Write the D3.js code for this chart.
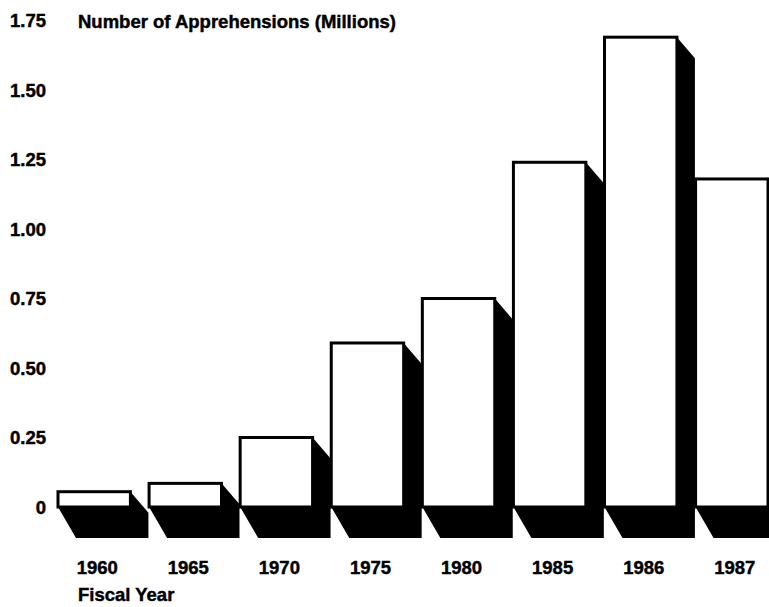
<!DOCTYPE html>
<html>
<head>
<meta charset="utf-8">
<script src="https://cdn.jsdelivr.net/npm/d3@7"></script>
<style>
  html, body { margin: 0; padding: 0; background: #fff; }
  svg { display: block; }
  text { font-family: "Liberation Sans", Arial, Helvetica, sans-serif; font-weight: bold; fill: #000; stroke: #000; stroke-width: 0.45px; }
</style>
</head>
<body>
<svg id="chart" width="769" height="607"></svg>
<script>
const years = ["1960", "1965", "1970", "1975", "1980", "1985", "1986", "1987"];
const apprehensions = [0.055, 0.085, 0.25, 0.59, 0.75, 1.24, 1.69, 1.18];
const yTicks = [0, 0.25, 0.5, 0.75, 1.0, 1.25, 1.5, 1.75];
const yTickLabels = ["0", "0.25", "0.50", "0.75", "1.00", "1.25", "1.50", "1.75"];
const titleText = "Number of Apprehensions (Millions)";
const xTitleText = "Fiscal Year";

const svg = d3.select("#chart");
const fontSize = 18.5;

const x = d3.scaleBand().domain(years).range([58, 768]).paddingInner(0.205).paddingOuter(0);
const y = d3.scaleLinear().domain([0, 1.75]).range([507, 20.5]);

const dx = 18, dyTop = 21, dyBot = 31;
const bw = x.bandwidth();

const data = years.map((yr, i) => ({ yr, v: apprehensions[i] }));

// shadows
svg.append("g").selectAll("polygon").data(data).join("polygon")
  .attr("fill", "#000")
  .attr("points", d => {
    const x0 = x(d.yr), x1 = x0 + bw, yt = y(d.v), yb = y(0);
    return [[x1, yt], [x1 + dx, yt + dyTop], [x1 + dx, yb + dyBot], [x0 + dx, yb + dyBot], [x0, yb], [x1, yb]]
      .map(p => p.join(",")).join(" ");
  });

// front faces
svg.append("g").selectAll("rect").data(data).join("rect")
  .attr("x", d => x(d.yr))
  .attr("y", d => y(d.v))
  .attr("width", bw)
  .attr("height", d => y(0) - y(d.v))
  .attr("fill", "#fff")
  .attr("stroke", "#000")
  .attr("stroke-width", 3);

// y-axis labels
svg.append("g").selectAll("text").data(yTicks).join("text")
  .attr("x", 46)
  .attr("y", d => y(d))
  .attr("dy", "0.36em")
  .attr("text-anchor", "end")
  .attr("font-size", fontSize)
  .text((d, i) => yTickLabels[i]);

// x-axis labels
svg.append("g").selectAll("text").data(years).join("text")
  .attr("x", d => x(d) + bw / 2 + 3)
  .attr("y", 574)
  .attr("text-anchor", "middle")
  .attr("font-size", fontSize)
  .text(d => d);

svg.append("text").attr("x", 78).attr("y", 28).attr("font-size", fontSize).text(titleText);
svg.append("text").attr("x", 78).attr("y", 601).attr("font-size", fontSize).text(xTitleText);
</script>
</body>
</html>
